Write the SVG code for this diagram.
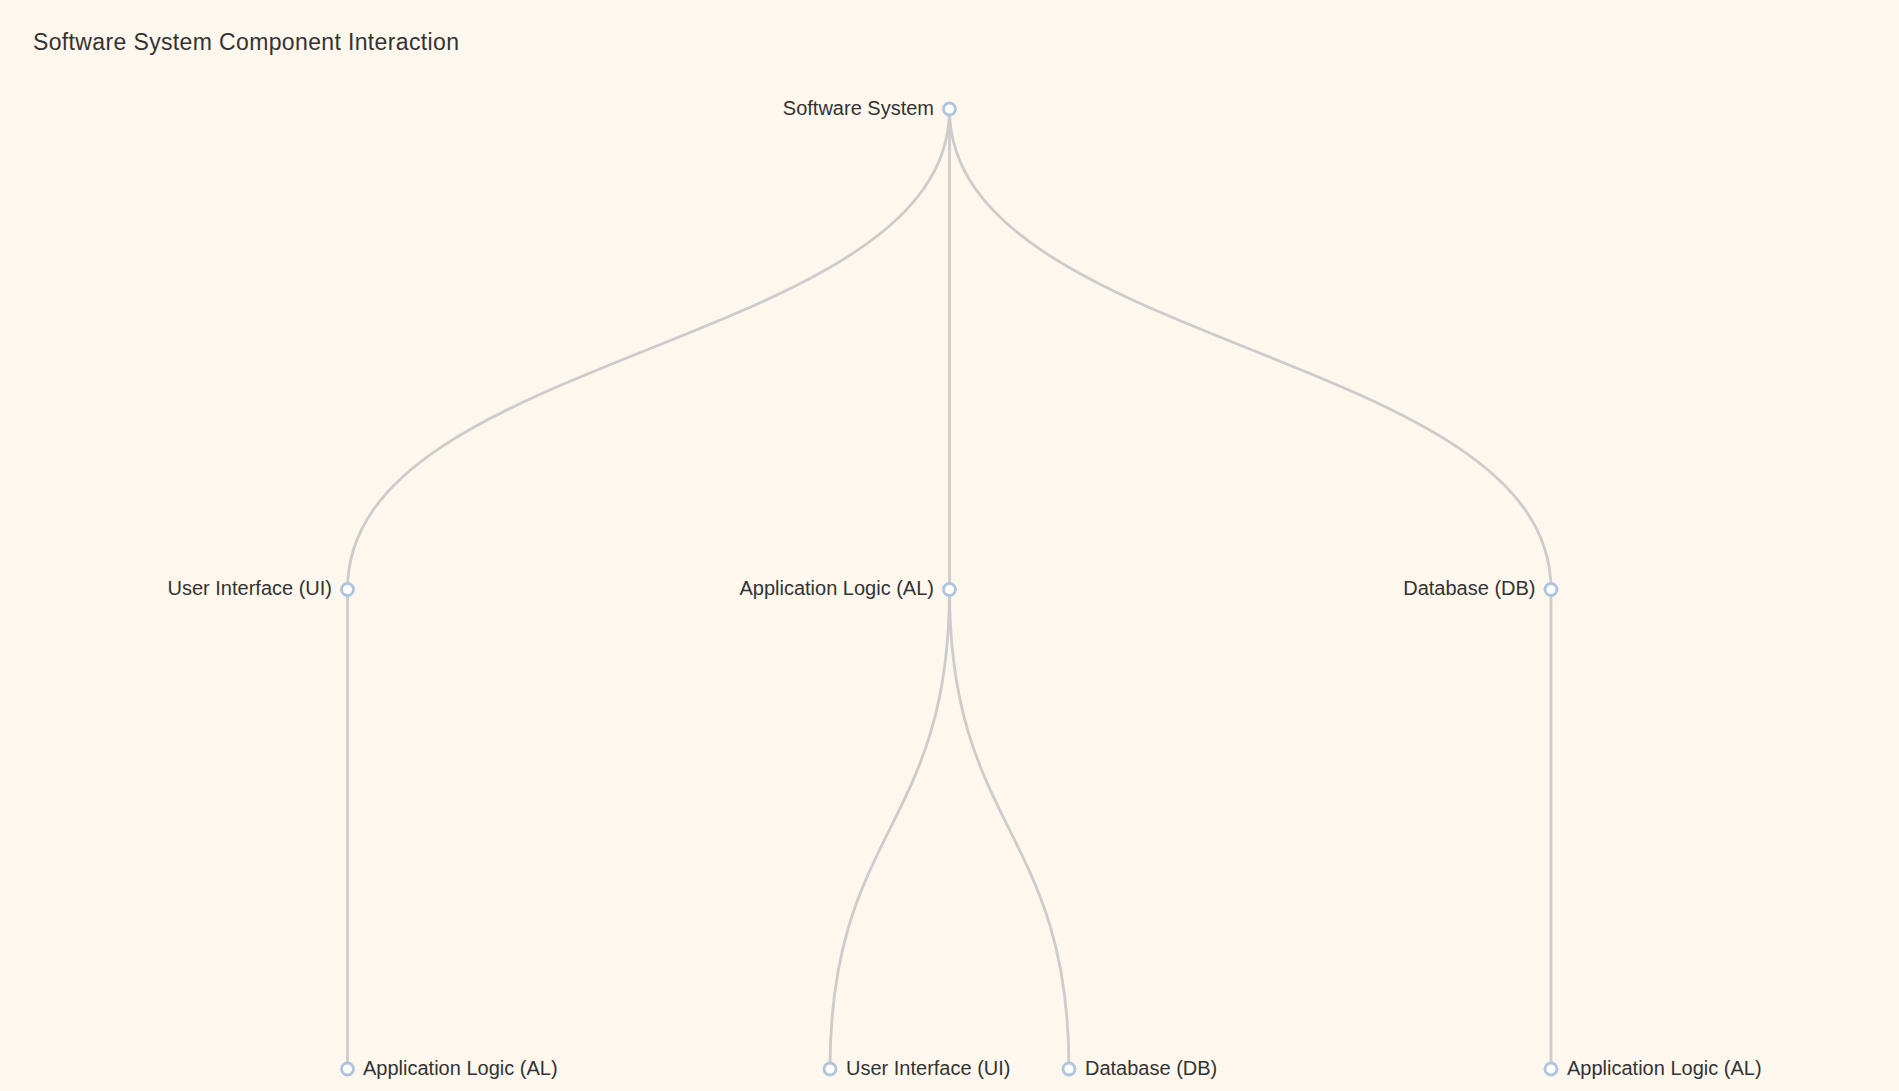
<svg xmlns="http://www.w3.org/2000/svg" width="1899" height="1091" viewBox="0 0 1899 1091">
<style>
.bg{fill:#fdf7ee}
.title{font-family:"Liberation Sans",Arial,sans-serif;font-size:23px;fill:#333}
.lbl{font-family:"Liberation Sans",Arial,sans-serif;font-size:20px;fill:#333}
.edge{fill:none;stroke:#cccccc;stroke-width:2.8}
.dot{fill:#ffffff;stroke:#b0c4de;stroke-width:2.8}
</style>
<rect class="bg" x="0" y="0" width="1899" height="1091"/>
<text class="title" x="33" y="50" textLength="426" lengthAdjust="spacing">Software System Component Interaction</text>
<g id="connectors">
<path class="edge" d="M949.5,109 C949.5,349.25 347.5,349.25 347.5,589.5"/>
<path class="edge" d="M949.5,109 L949.5,589.5"/>
<path class="edge" d="M949.5,109 C949.5,349.25 1551,349.25 1551,589.5"/>
<path class="edge" d="M347.5,589.5 L347.5,1069"/>
<path class="edge" d="M949.5,589.5 C949.5,829.25 830,829.25 830,1069"/>
<path class="edge" d="M949.5,589.5 C949.5,829.25 1069,829.25 1069,1069"/>
<path class="edge" d="M1551,589.5 L1551,1069"/>
</g>
<g id="node-root">
<circle class="dot" cx="949.5" cy="109" r="6"/>
<text class="lbl" x="934" y="114.5" text-anchor="end">Software System</text>
</g>
<g id="node-ui">
<circle class="dot" cx="347.5" cy="589.5" r="6"/>
<text class="lbl" x="332" y="595" text-anchor="end">User Interface (UI)</text>
</g>
<g id="node-al">
<circle class="dot" cx="949.5" cy="589.5" r="6"/>
<text class="lbl" x="934" y="595" text-anchor="end">Application Logic (AL)</text>
</g>
<g id="node-db">
<circle class="dot" cx="1551" cy="589.5" r="6"/>
<text class="lbl" x="1535.5" y="595" text-anchor="end">Database (DB)</text>
</g>
<g id="node-ui-al">
<circle class="dot" cx="347.5" cy="1069" r="6"/>
<text class="lbl" x="363" y="1074.5">Application Logic (AL)</text>
</g>
<g id="node-al-ui">
<circle class="dot" cx="830" cy="1069" r="6"/>
<text class="lbl" x="846" y="1074.5">User Interface (UI)</text>
</g>
<g id="node-al-db">
<circle class="dot" cx="1069" cy="1069" r="6"/>
<text class="lbl" x="1085" y="1074.5">Database (DB)</text>
</g>
<g id="node-db-al">
<circle class="dot" cx="1551" cy="1069" r="6"/>
<text class="lbl" x="1567" y="1074.5">Application Logic (AL)</text>
</g>
</svg>
